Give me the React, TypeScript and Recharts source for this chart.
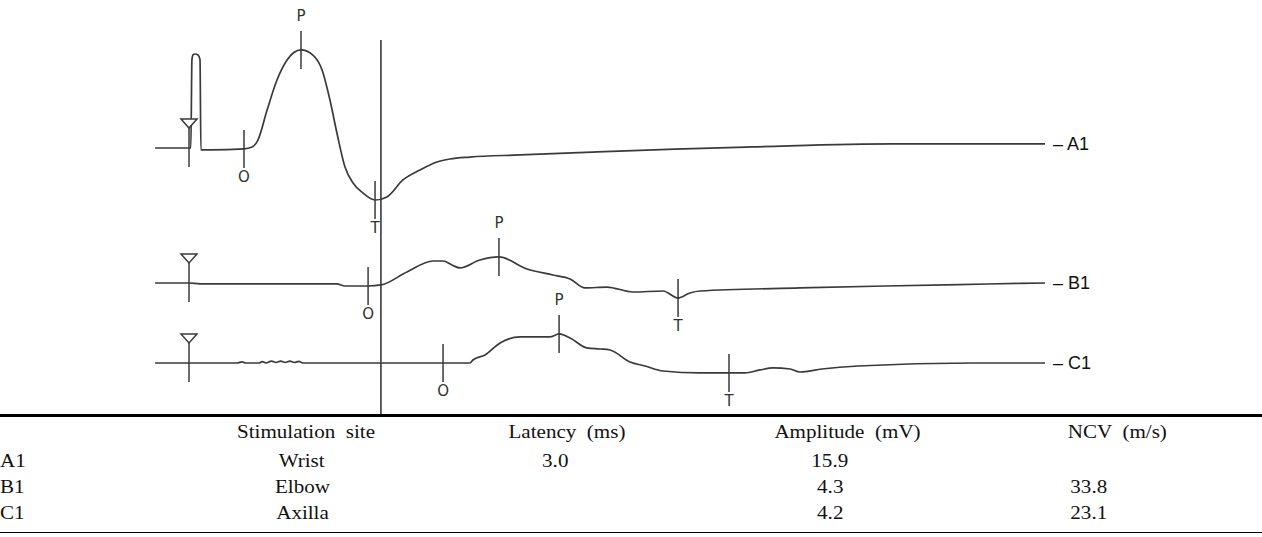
import React from "react";
import { ComposedChart, Line, Scatter, XAxis, YAxis, ReferenceLine } from "recharts";

// traces: [time (ms from stimulus), amplitude (mV from baseline)]
const A1_TRACE: [number, number][] = [
  [-1.85, 0], [-0.1, 0], [0.1, 0], [0.16, 9.4], [0.22, 9.9], [0.33, 10.0], [0.49, 9.9], [0.6, 9.4],
  [0.65, -0.2], [0.76, -0.2], [1.15, -0.2], [3.0, -0.1], [3.44, 0.1], [3.76, 0.85], [4.26, 4.04],
  [4.8, 7.23], [5.35, 9.36], [6.11, 10.43], [6.76, 9.89], [7.26, 8.3], [7.69, 5.1], [8.07, 1.6],
  [8.51, -2.02], [8.95, -3.72], [9.49, -4.79], [10.15, -5.53], [10.8, -5.2], [11.67, -3.4],
  [12.6, -2.34], [13.53, -1.49], [14.24, -1.17], [15.33, -0.96], [18.06, -0.74], [21.99, -0.43],
  [26.51, -0.11], [30.71, 0.11], [38.41, 0.43], [46.7, 0.43],
];

const B1_TRACE: [number, number][] = [
  [-1.85, 0], [0, 0], [0.6, -0.1], [8.07, -0.1], [8.51, -0.32], [9.77, -0.32], [10.47, -0.21],
  [11.89, 1.17], [13.31, 2.34], [13.86, 2.34], [14.35, 1.91], [14.78, 1.6], [15.87, 2.45],
  [16.91, 2.77], [18.44, 1.49], [19.86, 0.85], [20.79, 0.43], [21.6, -0.53], [22.8, -0.43],
  [24.22, -0.96], [25.86, -0.85], [26.68, -1.6], [27.33, -1.06], [27.88, -0.85], [33.33, -0.53],
  [37.97, -0.32], [43.54, -0.11], [46.7, 0],
];

const C1_TRACE: [number, number][] = [
  [-1.85, 0], [0, 0], [2.62, 0], [2.9, 0.12], [3.1, 0], [3.82, 0], [4.0, 0.15], [4.2, 0],
  [4.5, 0.2], [4.75, 0.05], [5.0, 0.2], [5.25, 0.05], [5.5, 0.2], [5.75, 0.05], [6.0, 0.18],
  [6.2, 0], [13.86, 0], [15.33, 0], [15.49, 0.32], [16.15, 0.85], [16.97, 2.13], [18.06, 2.77],
  [19.69, 2.77], [20.19, 3.09], [20.79, 2.66], [21.71, 1.6], [22.42, 1.49], [22.97, 1.38],
  [24.06, 0.1], [24.88, -0.32], [25.86, -0.85], [27.88, -1.06], [29.46, -1.06], [30.33, -1.06],
  [31.15, -0.74], [31.86, -0.53], [32.79, -0.64], [33.33, -0.96], [34.53, -0.64], [36.5, -0.32],
  [42.77, 0], [46.7, 0],
];

// markers: [time, amplitude, kind] S = stimulus, O = onset, P = peak, T = trough
const A1_MARKS: [number, number, string][] = [[0, 0, "S"], [3.0, -0.1, "O"], [6.11, 10.43, "P"], [10.15, -5.53, "T"]];
const B1_MARKS: [number, number, string][] = [[0, 0, "S"], [9.77, -0.32, "O"], [16.91, 2.77, "P"], [26.68, -1.6, "T"]];
const C1_MARKS: [number, number, string][] = [[0, 0, "S"], [13.86, 0, "O"], [20.19, 3.09, "P"], [29.46, -1.06, "T"]];

const TRACE_NAMES = ["A1", "B1", "C1"];
const SITES = ["Wrist", "Elbow", "Axilla"];
const LATENCY = ["3.0", "", ""];
const AMPLITUDE = ["15.9", "4.3", "4.2"];
const NCV = ["", "33.8", "23.1"];
const HEADERS = ["", "Stimulation  site", "Latency  (ms)", "Amplitude  (mV)", "NCV  (m/s)"];

const CURSOR_T = 10.47;

// layout
const W = 1262;
const CHART_H = 416;
const PX_PER_MS = 18.33;
const PX_PER_MV = 9.4;
const STIM_X = 189;
const OFFSETS = [28.51, 14.15, 5.64];
const INK = "#3a3a3a";

const traces = [A1_TRACE, B1_TRACE, C1_TRACE].map((tr, i) =>
  tr.map(([t, mv]) => ({ t, v: mv + OFFSETS[i] }))
);
const marks = [A1_MARKS, B1_MARKS, C1_MARKS].flatMap((m, i) =>
  m.map(([t, mv, kind]) => ({ t, v: mv + OFFSETS[i], kind }))
);
const endLabels = traces.map((tr, i) => ({ ...tr[tr.length - 1], name: TRACE_NAMES[i] }));

function MarkShape(props: any) {
  const { cx, cy, payload } = props;
  if (!payload || cx == null) return null;
  const kind = payload.kind;
  if (kind === "S") {
    return (
      <g>
        <line x1={cx} x2={cx} y1={cy - 27} y2={cy + 19} stroke={INK} strokeWidth={1.5} />
        <polygon
          points={`${cx - 8},${cy - 29} ${cx + 8},${cy - 29} ${cx},${cy - 20}`}
          fill="#fff"
          stroke={INK}
          strokeWidth={1.5}
        />
      </g>
    );
  }
  const ly = kind === "P" ? cy - 29 : cy + 33;
  return (
    <g>
      <line x1={cx} x2={cx} y1={cy - 19} y2={cy + 19} stroke={INK} strokeWidth={1.5} />
      <text
        x={cx}
        y={ly}
        textAnchor="middle"
        fontFamily="DejaVu Sans, sans-serif"
        fontSize={15}
        fill="#333"
      >
        {kind}
      </text>
    </g>
  );
}

function EndLabel(props: any) {
  const { cx, cy, payload } = props;
  if (!payload || cx == null) return null;
  return (
    <text
      x={cx + 8}
      y={cy}
      dominantBaseline="central"
      fontFamily="Liberation Sans, Arial, sans-serif"
      fontSize={18}
      fill="#111"
    >
      {"– " + payload.name}
    </text>
  );
}

const serif = {
  fontFamily: "Liberation Serif, Times New Roman, serif",
  fontSize: 18,
  color: "#111",
};
const HEAD_COLS = "200px 212px 310px 250px 290px";
const ROW_COLS = "200px 204px 302px 248px 270px 38px";

function Cell({ text, align }: { text: string; align?: string }) {
  const left = align === "left";
  return (
    <div style={{ textAlign: left ? "left" : "center", whiteSpace: "pre" }}>
      <span
        style={{
          display: "inline-block",
          transform: "scaleX(1.17)",
          transformOrigin: left ? "left" : "center",
        }}
      >
        {text}
      </span>
    </div>
  );
}

export default function App() {
  const xDomain = [-STIM_X / PX_PER_MS, (W - STIM_X) / PX_PER_MS];
  const yDomain = [0, CHART_H / PX_PER_MV];
  return (
    <div style={{ position: "absolute", left: 0, top: 0, width: W, height: 537, background: "#fff" }}>
      <ComposedChart width={W} height={CHART_H} margin={{ top: 0, right: 0, bottom: 0, left: 0 }}>
        <XAxis type="number" dataKey="t" domain={xDomain} allowDataOverflow hide />
        <YAxis type="number" dataKey="v" domain={yDomain} allowDataOverflow hide />
        <ReferenceLine
          segment={[{ x: CURSOR_T, y: 0 }, { x: CURSOR_T, y: 40 }]}
          stroke={INK}
          strokeWidth={1.6}
        />
        {traces.map((data, i) => (
          <Line
            key={TRACE_NAMES[i]}
            data={data}
            dataKey="v"
            type="monotone"
            stroke={INK}
            strokeWidth={1.7}
            dot={false}
            activeDot={false}
            legendType="none"
            isAnimationActive={false}
          />
        ))}
        <Scatter data={marks} dataKey="v" shape={<MarkShape />} legendType="none" isAnimationActive={false} />
        <Scatter data={endLabels} dataKey="v" shape={<EndLabel />} legendType="none" isAnimationActive={false} />
      </ComposedChart>

      <div style={{ position: "absolute", left: 0, top: 414, width: W, ...serif }}>
        <div style={{ borderTop: "3px solid #000" }} />
        <div style={{ display: "grid", gridTemplateColumns: HEAD_COLS, height: 31, alignItems: "center" }}>
          {HEADERS.map((h, i) => (
            <Cell key={i} text={h} />
          ))}
        </div>
        {TRACE_NAMES.map((name, r) => (
          <div key={name} style={{ display: "grid", gridTemplateColumns: ROW_COLS, height: 26, alignItems: "center" }}>
            <Cell text={name} align="left" />
            <Cell text={SITES[r]} />
            <Cell text={LATENCY[r]} />
            <Cell text={AMPLITUDE[r]} />
            <Cell text={NCV[r]} />
            <div />
          </div>
        ))}
        <div style={{ height: 6, borderBottom: "1.5px solid #000" }} />
      </div>
    </div>
  );
}
